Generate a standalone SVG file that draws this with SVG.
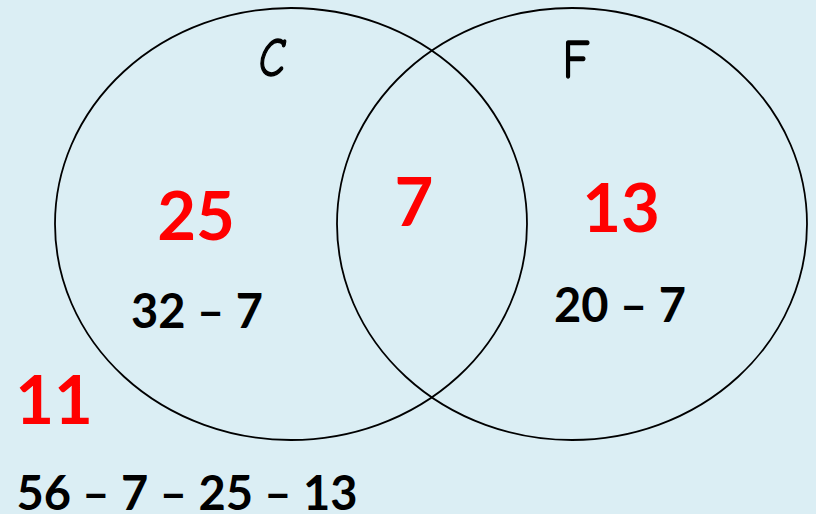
<svg xmlns="http://www.w3.org/2000/svg" width="816" height="514" viewBox="0 0 816 514">
<style>
.ring{fill:none;stroke:#000;stroke-width:1.8}
.lab{font-family:"Comic Sans MS","Comic Neue","DejaVu Sans",sans-serif;font-size:54px;fill:#000;stroke:#000;stroke-width:1.4;stroke-linejoin:round;text-anchor:middle}
.red{font-family:Lato,"Open Sans","Liberation Sans",sans-serif;font-weight:bold;font-size:67px;fill:#FF0000;text-anchor:middle}
.blk{font-family:Lato,"Open Sans","Liberation Sans",sans-serif;font-weight:bold;font-size:47px;fill:#000;text-anchor:middle}
</style>
<rect width="816" height="514" fill="#DBEEF4"/>
<g id="setC">
<ellipse class="ring" cx="291" cy="224" rx="236" ry="216"/>
<text class="lab" transform="translate(272 76) scale(0.8 1)" font-style="italic">C</text>
</g>
<g id="setF">
<ellipse class="ring" cx="572" cy="224" rx="235" ry="216"/>
<text class="lab" transform="translate(576 78) scale(0.85 1)">F</text>
</g>
<g id="onlyC">
<text class="red" x="196" y="240">25</text>
<text class="blk" x="197" y="328">32 – 7</text>
</g>
<g id="both">
<text class="red" x="414" y="226">7</text>
</g>
<g id="onlyF">
<text class="red" x="621" y="232">13</text>
<text class="blk" x="620" y="322">20 – 7</text>
</g>
<g id="neither">
<text class="red" x="54" y="424">11</text>
<text class="blk" x="187" y="510">56 – 7 – 25 – 13</text>
</g>
<g id="connectors"></g>
</svg>
